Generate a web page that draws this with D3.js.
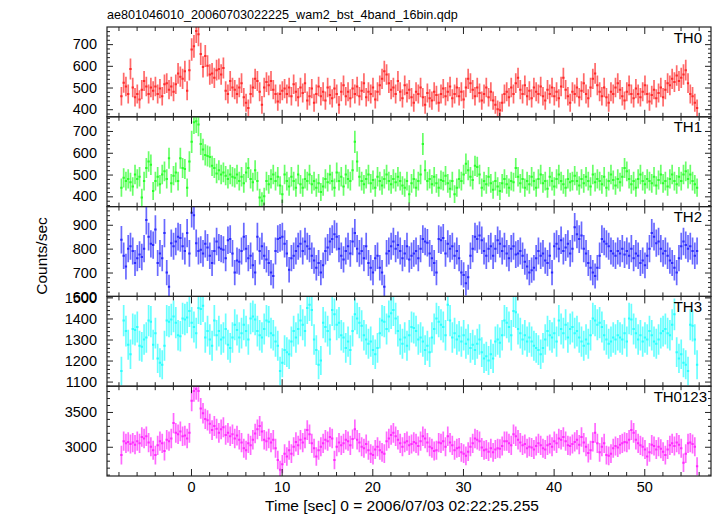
<!DOCTYPE html>
<html><head><meta charset="utf-8">
<script src="https://cdn.jsdelivr.net/npm/d3@7"></script>
<style>body{margin:0;background:#fff}svg{display:block;font-family:"Liberation Sans",Arial,Helvetica,sans-serif}</style>
</head><body><svg id="c" width="717" height="516"></svg>
<script>
// ---- data (counts/sec, 0.25 s bins) ----
const binSec = 0.25;
const tStart = -7.8;
const title = "ae801046010_20060703022225_wam2_bst_4band_16bin.qdp";
const xLabel = "Time [sec] 0 = 2006/07/03 02:22:25.255";
const yLabel = "Counts/sec";
const seriesNames = ["TH0", "TH1", "TH2", "TH3", "TH0123"];
const seriesColors = ["#ff2a2a", "#2aff2a", "#2a2aff", "#2affff", "#ff2aff"];
const errScale = [1, 1, 1, 1, 1.25];
const xMajorTicks = [0, 10, 20, 30, 40, 50];
const xMinorTicks = [-8, -6, -4, -2, 2, 4, 6, 8, 12, 14, 16, 18, 22, 24, 26, 28, 32, 34, 36, 38, 42, 44, 46, 48, 52, 54, 56];
const yDomains = [[365, 779], [353, 765], [600, 976], [1078, 1505], [2580, 3870]];
const yMajorTicks = [[400, 500, 600, 700], [400, 500, 600, 700], [600, 700, 800, 900], [1100, 1200, 1300, 1400, 1500], [3000, 3500]];
const yMinorStep = [20, 20, 20, 20, 100];

const th0 = [460,522,505,470,585,500,455,470,445,490,
530,505,470,500,485,505,470,495,460,515,
520,490,505,480,515,565,550,540,575,485,
580,675,690,760,745,655,595,645,600,560,
565,545,580,585,560,590,485,470,530,500,
490,470,500,520,455,430,405,470,500,540,
530,480,420,500,525,510,530,490,470,435,
470,485,495,470,500,460,515,480,455,500,
475,520,440,460,495,430,470,505,460,480,
440,500,465,450,495,470,420,480,510,460,
480,450,495,470,505,460,485,520,455,480,
470,500,445,480,510,540,575,560,520,490,
500,470,530,480,450,510,475,490,455,430,
480,470,500,455,420,475,450,440,480,465,
430,470,495,460,480,505,450,470,500,460,
480,445,500,540,520,490,460,500,475,440,
470,500,455,480,440,420,400,395,430,470,
480,455,500,470,520,545,490,470,510,460,
485,450,500,480,470,505,460,440,490,470,
500,460,480,450,505,545,490,460,430,480,
470,500,455,485,520,470,450,500,540,565,
510,480,460,500,455,430,480,470,500,520,
490,460,440,480,510,470,450,495,470,455,
480,510,470,435,465,490,450,475,500,455,
490,520,510,540,525,555,530,545,560,580,
520,470,460,430,405];

const th1 = [440,485,470,480,465,445,500,480,490,395,
470,530,560,545,425,470,490,455,500,515,
480,575,460,495,510,470,575,530,525,440,
560,650,740,745,730,640,615,590,585,580,
540,530,505,520,500,510,495,480,500,490,
485,500,470,490,460,510,530,480,465,520,
470,395,380,400,470,455,480,500,470,490,
450,410,500,470,445,490,470,440,500,455,
440,480,470,500,455,470,440,460,420,445,
480,465,500,470,440,510,470,490,445,500,
480,470,520,650,560,490,470,455,480,500,
460,475,440,490,470,450,480,500,470,455,
480,465,490,470,450,440,470,410,460,480,
440,470,500,640,520,470,480,455,490,460,
440,475,470,495,460,435,470,410,440,480,
470,500,550,520,490,475,540,535,500,440,
470,455,490,460,430,470,445,425,460,480,
455,440,470,465,530,490,460,480,440,470,
455,490,470,440,480,500,460,470,435,490,
470,445,480,500,470,455,440,480,465,470,
495,470,450,480,460,490,470,445,500,465,
480,470,455,490,440,470,500,475,450,480,
465,490,530,515,480,455,470,440,480,500,
470,455,480,470,460,490,450,475,500,460,
470,445,480,500,470,455,490,470,500,515,
480,500,470,455,440];

const th2 = [837,770,725,800,810,790,740,760,775,765,
800,920,850,820,815,880,740,780,760,865,
700,640,823,810,830,850,845,810,790,865,
780,950,940,823,790,795,780,820,805,770,
740,790,830,805,800,795,760,835,840,780,
700,750,745,790,850,800,760,770,730,700,
850,790,810,770,755,740,700,685,790,840,
845,850,820,780,712,760,770,790,810,820,
790,830,810,800,770,750,720,740,700,730,
790,805,830,840,860,850,800,770,755,790,
810,780,830,865,800,780,790,760,810,740,
720,700,760,770,720,700,640,780,790,810,
830,800,815,790,760,780,810,755,770,780,
790,760,800,840,830,825,780,760,740,700,
840,835,845,780,820,800,810,770,790,760,
700,690,655,680,770,800,850,840,855,835,
790,770,800,810,770,800,835,820,790,810,
780,760,800,810,775,780,790,770,745,725,
700,710,720,760,790,770,780,750,740,770,
700,810,820,800,835,790,805,820,780,800,
890,860,840,855,800,780,740,720,700,685,
720,770,840,830,820,810,790,780,770,790,
780,800,775,790,770,800,760,780,770,740,
750,730,770,800,865,850,823,830,800,780,
790,770,750,740,720,700,760,810,830,815,
800,810,790,770,790];

const th3 = [1150,1390,1340,1275,1230,1350,1345,1360,1270,1265,
1300,1310,1390,1385,1275,1330,1210,1190,1180,1270,
1390,1385,1395,1410,1380,1320,1315,1400,1395,1405,
1435,1380,1360,1330,1450,1445,1460,1310,1340,1300,
1270,1390,1320,1340,1300,1310,1350,1275,1260,1310,
1370,1345,1310,1330,1370,1340,1300,1400,1410,1395,
1340,1320,1310,1350,1390,1385,1330,1320,1290,1270,
1150,1190,1250,1240,1230,1290,1340,1310,1350,1390,
1370,1340,1450,1465,1440,1300,1250,1180,1200,1380,
1360,1340,1300,1440,1420,1370,1380,1320,1310,1260,
1290,1250,1340,1420,1400,1380,1365,1320,1300,1280,
1290,1250,1230,1260,1330,1390,1385,1350,1410,1425,
1440,1400,1340,1300,1280,1310,1270,1320,1360,1355,
1340,1300,1310,1290,1250,1270,1240,1310,1350,1400,
1385,1370,1360,1320,1465,1390,1310,1330,1300,1315,
1290,1320,1280,1300,1260,1275,1250,1280,1300,1240,
1210,1220,1200,1230,1210,1290,1300,1285,1320,1390,
1380,1360,1320,1435,1430,1350,1330,1300,1320,1290,
1310,1290,1270,1260,1250,1230,1260,1300,1340,1320,
1310,1330,1290,1390,1350,1330,1370,1310,1350,1360,
1330,1340,1310,1290,1270,1300,1280,1320,1400,1390,
1370,1380,1360,1320,1300,1280,1290,1310,1300,1320,
1310,1300,1330,1290,1400,1395,1350,1330,1300,1320,
1290,1310,1300,1340,1320,1290,1280,1300,1330,1340,
1350,1330,1320,1370,1420,1240,1210,1230,1190,1180,
1150,1370,1365,1300,1180];

const th0123 = [2880,3080,3050,3070,3040,3060,3030,3080,3050,3140,
3120,3150,3060,3000,2950,2880,3020,3080,3050,2940,
3100,3080,3120,3340,3200,3180,3220,3150,3160,3120,
3200,3660,3800,3830,3800,3550,3480,3400,3380,3330,
3240,3300,3260,3200,3250,3280,3170,3200,3150,3180,
3120,3160,3100,3060,2980,2950,3050,3020,3100,3190,
3250,3300,3220,3100,3080,3120,3060,3100,2980,2810,
2670,2750,2900,2860,2950,2900,3000,3070,3020,3100,
3060,3120,3240,3180,3050,2980,2860,2950,3000,3050,
3100,3080,3140,3120,2810,3000,3060,3020,3050,3100,
3080,3020,3110,3250,3100,3060,3000,2980,3040,2950,
2900,2880,2960,3000,2950,2920,2900,3080,3120,3170,
3200,3150,3100,3050,3000,3060,3080,3020,3040,3070,
3050,3010,3080,3150,3120,3060,3000,2980,2940,2950,
3060,3050,3080,3000,3150,3060,3020,2950,2980,2990,
2920,2900,2870,2930,3000,3050,3120,3100,3080,2990,
2950,2960,2930,2980,2920,2960,2980,2970,3010,3080,
3080,3050,3020,3180,3150,3100,3060,3020,3040,2980,
3000,2990,2960,3010,3050,3020,2980,2960,3020,3040,
3000,3080,3050,3120,3100,3140,3080,3020,3010,3040,
3070,3100,3030,3140,3060,3000,2910,2950,3070,3200,
3050,2920,3000,3050,2880,2870,2900,2980,3010,2990,
3030,3050,3070,3060,3100,3240,3200,3100,3050,3020,
3000,2960,2860,2920,3030,3010,2960,3000,2970,2930,
2880,2960,3020,3050,3010,3060,3030,2980,2770,2900,
3050,3060,3040,3000,2720];

const seriesValues = [th0, th1, th2, th3, th0123];

// ---- drawing ----
const svg = d3.select("#c");
const L = 107, R = 711, T = 27, B = 476;
const ph = (B - T) / seriesValues.length;
const x = d3.scaleLinear().domain([-9.265, 57.36]).range([L, R]);
const axisCol = "#222";

svg.append("text").attr("x", 107).attr("y", 19).attr("font-size", 12.6).attr("fill", "#000").text(title);

seriesValues.forEach((vals, k) => {
  const y0 = T + k * ph, y1 = y0 + ph;
  const dom = yDomains[k];
  const y = d3.scaleLinear().domain(dom).range([y1, y0]);
  const color = seriesColors[k];
  const g = svg.append("g");

  svg.append("clipPath").attr("id", "clip" + k).append("rect")
    .attr("x", L).attr("y", y0).attr("width", R - L).attr("height", ph);
  const dg = g.append("g").attr("clip-path", `url(#clip${k})`);
  const pts = vals.map((v, i) => ({ t: tStart + (i + 0.5) * binSec, v: v, e: errScale[k] * Math.sqrt(v / binSec) }));

  dg.append("g").selectAll("line").data(pts).join("line")
    .attr("x1", d => x(d.t)).attr("x2", d => x(d.t))
    .attr("y1", d => y(d.v - d.e)).attr("y2", d => y(d.v + d.e))
    .attr("stroke", color).attr("stroke-opacity", 0.7).attr("stroke-width", 1.7);
  dg.append("g").selectAll("line").data(pts).join("line")
    .attr("x1", d => x(d.t - binSec / 2)).attr("x2", d => x(d.t + binSec / 2))
    .attr("y1", d => y(d.v)).attr("y2", d => y(d.v))
    .attr("stroke", color).attr("stroke-width", 2);

  const last = k === seriesValues.length - 1;
  const xb = g.append("g").attr("transform", `translate(0,${y1})`)
    .call(d3.axisBottom(x).tickValues(xMajorTicks).tickSizeInner(-7).tickSizeOuter(0).tickPadding(6)
      .tickFormat(last ? d3.format("d") : () => ""));
  const xbm = g.append("g").attr("transform", `translate(0,${y1})`)
    .call(d3.axisBottom(x).tickValues(xMinorTicks).tickSizeInner(-4).tickSizeOuter(0).tickFormat(() => ""));
  const xt = g.append("g").attr("transform", `translate(0,${y0})`)
    .call(d3.axisTop(x).tickValues(xMajorTicks).tickSizeInner(-7).tickSizeOuter(0).tickFormat(() => ""));
  const xtm = g.append("g").attr("transform", `translate(0,${y0})`)
    .call(d3.axisTop(x).tickValues(xMinorTicks).tickSizeInner(-4).tickSizeOuter(0).tickFormat(() => ""));

  const minor = d3.range(Math.ceil(dom[0] / yMinorStep[k]) * yMinorStep[k], dom[1], yMinorStep[k])
    .filter(v => !yMajorTicks[k].includes(v));
  const yl = g.append("g").attr("transform", `translate(${L},0)`)
    .call(d3.axisLeft(y).tickValues(yMajorTicks[k]).tickSizeInner(-6).tickSizeOuter(0).tickPadding(10).tickFormat(d3.format("d")));
  const ylm = g.append("g").attr("transform", `translate(${L},0)`)
    .call(d3.axisLeft(y).tickValues(minor).tickSizeInner(-3).tickSizeOuter(0).tickFormat(() => ""));
  const yr = g.append("g").attr("transform", `translate(${R},0)`)
    .call(d3.axisRight(y).tickValues(yMajorTicks[k]).tickSizeInner(-6).tickSizeOuter(0).tickFormat(() => ""));
  const yrm = g.append("g").attr("transform", `translate(${R},0)`)
    .call(d3.axisRight(y).tickValues(minor).tickSizeInner(-3).tickSizeOuter(0).tickFormat(() => ""));

  [xb, xbm, xt, xtm, yl, ylm, yr, yrm].forEach(a => {
    a.select(".domain").remove();
    a.selectAll(".tick line").attr("stroke", axisCol);
    a.selectAll(".tick text").attr("font-size", 14.5).attr("fill", "#000")
      .attr("font-family", "'Liberation Sans', Arial, sans-serif");
  });

  g.append("rect").attr("x", L).attr("y", y0).attr("width", R - L).attr("height", ph)
    .attr("fill", "none").attr("stroke", axisCol).attr("stroke-width", 1.2);

  g.append("text").attr("x", last ? 707 : 702).attr("y", y0 + 15.5)
    .attr("text-anchor", "end").attr("font-size", 15).attr("fill", "#000").text(seriesNames[k]);
});

svg.append("text").attr("x", 402).attr("y", 511).attr("text-anchor", "middle")
  .attr("font-size", 15.5).attr("fill", "#000").text(xLabel);
svg.append("text").attr("transform", "translate(47,256) rotate(-90)").attr("text-anchor", "middle")
  .attr("font-size", 15.5).attr("fill", "#000").text(yLabel);
</script>
</body></html>
